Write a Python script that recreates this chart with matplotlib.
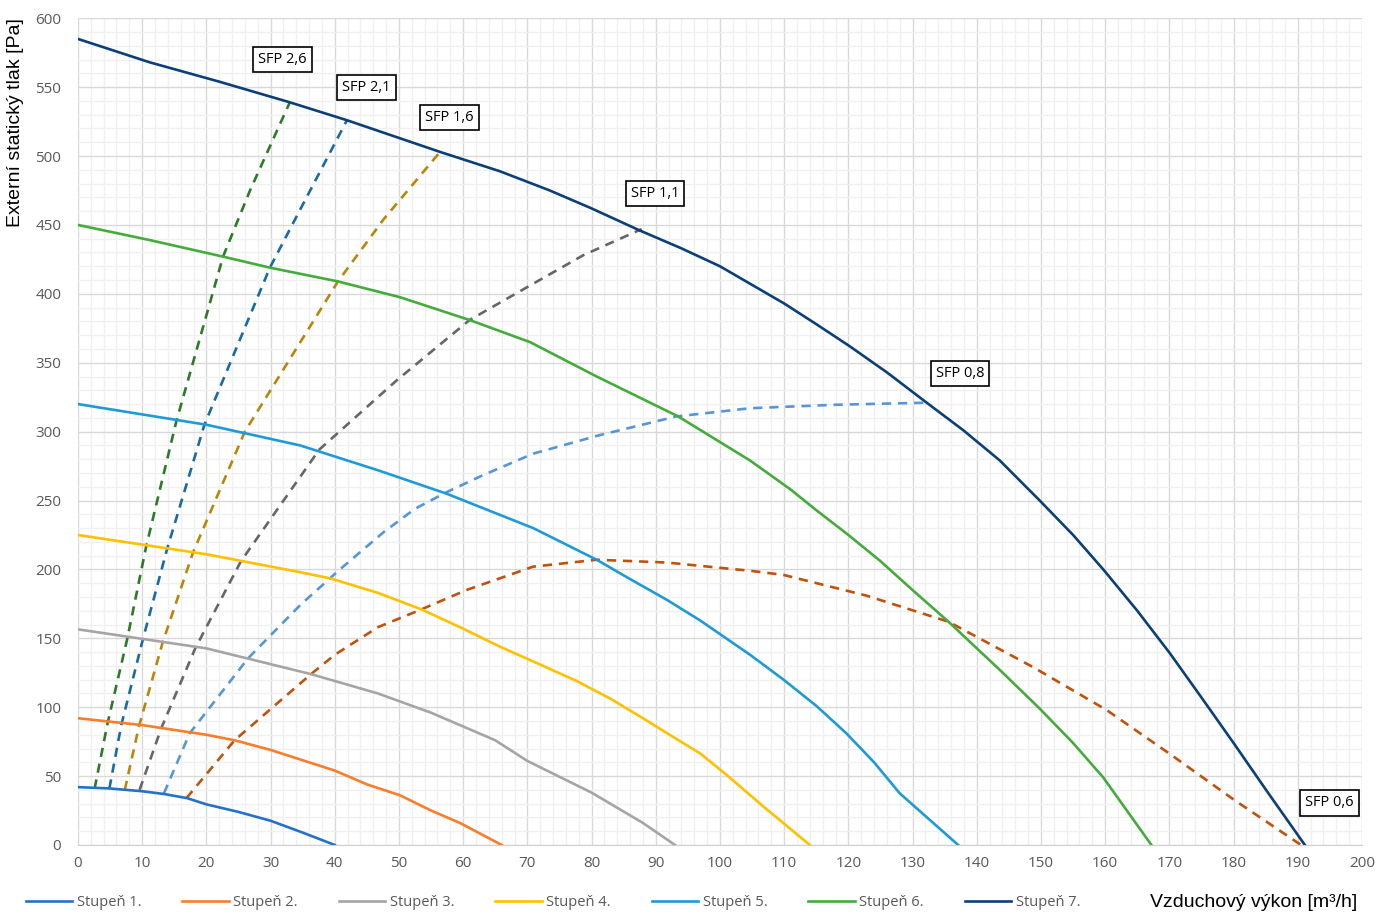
import numpy as np
import matplotlib.pyplot as plt
from matplotlib.ticker import MultipleLocator

# Charakteristiky ventilátoru - stupně 1 až 7 (x = m3/h, y = Pa)
st1_x = [0, 5, 10, 13.4, 17, 20, 25, 30, 35, 40]
st1_y = [42, 41, 39, 37, 34, 29.5, 24, 17.6, 9, 0]
st2_x = [0, 10, 20, 24.4, 30, 40, 45, 50.2, 55, 59.5, 66]
st2_y = [92, 87, 80, 76, 69, 54, 44, 36, 25, 16, 0]
st3_x = [0, 20, 36.3, 46.7, 55, 60, 65, 70, 80, 88, 93]
st3_y = [156.5, 142.7, 124, 110, 96, 86, 76, 61, 38, 16, 0]
st4_x = [0, 20, 34.6, 39.3, 46.7, 53.5, 60, 65.7, 71, 77.7, 83, 88, 92.5, 96.9, 101, 107, 114]
st4_y = [225, 211, 198, 193.5, 183, 171, 157, 144, 133, 119, 106, 92, 79, 66.5, 51, 27, 0]
st5_x = [0, 20, 34.6, 46.7, 57.4, 70.9, 80.8, 86, 91.7, 96.9, 104.7, 109.9, 115, 119.7, 124, 128, 137.1]
st5_y = [320, 305, 290, 272, 255, 230, 207, 193, 178, 163, 138, 120, 101, 81, 60, 37.5, 0]
st6_x = [0, 11.2, 22.6, 29.9, 40.5, 50.2, 61, 70.4, 80.8, 93.5, 104.7, 111, 115, 120, 125, 130,
         135.6, 143.6, 149.8, 155, 159.7, 167.2]
st6_y = [450, 439, 427, 419, 409, 397.5, 381, 365, 340, 311, 279, 258, 243, 225, 206, 185,
         162, 127, 99, 74, 49, 0]
st7_x = [0, 11.2, 22, 33, 41.9, 56.4, 65.7, 73.5, 80, 87.5, 94, 100, 110, 115, 120.2, 126, 132.2, 137.9,
         143.6, 149.8, 155, 159.7, 165, 170.1, 175, 180, 185.5, 191.1]
st7_y = [585, 568, 554, 539, 526, 503, 489, 475, 462, 446, 433, 420, 393, 378, 362, 343, 321, 301,
         279, 250, 225, 200, 170, 139, 107, 74, 37, 0]

# Křivky SFP
sfp26_x = [2.6, 4.6, 7.7, 10.6, 15.3, 22.6, 26.8, 33]
sfp26_y = [41, 88, 150, 216, 307, 427, 475, 539]
sfp21_x = [4.9, 6.75, 10.1, 13.9, 19.7, 29.9, 34.6, 41.9]
sfp21_y = [41, 87, 149, 215, 305, 419, 461, 526]
sfp16_x = [7.3, 9.5, 13.2, 17.9, 26, 40.5, 47.6, 56.4]
sfp16_y = [40, 86, 147, 212, 300, 409, 454, 503]
sfp11_x = [9.6, 13, 18.3, 25.4, 37.6, 49.6, 61, 70.4, 78.7, 87.8]
sfp11_y = [40, 85, 143, 206, 287, 337, 381, 406, 428, 447]
sfp08_x = [13.4, 17.4, 26.5, 34.6, 40.8, 47.6, 52.5, 57.4, 62.9, 70.9, 81.3, 93.2, 104.7, 118, 132.2]
sfp08_y = [37.5, 81, 135.5, 174, 200, 227, 244, 256, 268, 284, 297.5, 311, 317, 319.5, 321]
sfp06_x = [16.9, 24.4, 36.3, 40, 46.7, 53.5, 60.5, 70.9, 80.8, 91.7, 104.7, 109.9, 122.8, 135.6, 148.8,
           160.2, 170.1, 180, 190.5]
sfp06_y = [34, 76, 124, 138, 158, 171, 185, 202, 207, 205, 199, 196, 181, 162, 129, 98, 66, 33, 0]

stupne = [
    ("Stupeň 1.", st1_x, st1_y, "#2372C8"),
    ("Stupeň 2.", st2_x, st2_y, "#F97D2A"),
    ("Stupeň 3.", st3_x, st3_y, "#A5A5A5"),
    ("Stupeň 4.", st4_x, st4_y, "#FFC000"),
    ("Stupeň 5.", st5_x, st5_y, "#1E9BD7"),
    ("Stupeň 6.", st6_x, st6_y, "#43AC3A"),
    ("Stupeň 7.", st7_x, st7_y, "#0B3F7A"),
]
sfp = [
    (sfp26_x, sfp26_y, "#2E7A27"),
    (sfp21_x, sfp21_y, "#1A6AA6"),
    (sfp16_x, sfp16_y, "#B8860B"),
    (sfp11_x, sfp11_y, "#666666"),
    (sfp08_x, sfp08_y, "#5596DA"),
    (sfp06_x, sfp06_y, "#C0520C"),
]
# popisky SFP (text, x, y)
sfp_labels = [("SFP 2,6", 31.9, 570), ("SFP 2,1", 44.9, 550), ("SFP 1,6", 57.9, 528),
              ("SFP 1,1", 89.9, 473), ("SFP 0,8", 137.4, 342), ("SFP 0,6", 194.9, 30.5)]

plt.rcParams['font.family'] = ['Open Sans', 'DejaVu Sans']

fig = plt.figure(figsize=(13.77, 9.13), dpi=100)
ax = fig.add_axes([0.0566, 0.0745, 0.9325, 0.9055])

for xs, ys, c in sfp:
    ax.plot(xs, ys, color=c, lw=1.9, dashes=(3.5, 2.6), zorder=3)
for name, xs, ys, c in stupne:
    ax.plot(xs, ys, color=c, lw=1.9, label=name, zorder=4, solid_joinstyle='round')

for txt, x, y in sfp_labels:
    ax.text(x, y, txt, ha='center', va='center', fontsize=10.5, zorder=6,
            bbox=dict(boxstyle='square,pad=0.35', fc='white', ec='black', lw=1.2))

ax.set_xlim(0, 200)
ax.set_ylim(0, 600)
ax.xaxis.set_major_locator(MultipleLocator(10))
ax.xaxis.set_minor_locator(MultipleLocator(2))
ax.yaxis.set_major_locator(MultipleLocator(50))
ax.yaxis.set_minor_locator(MultipleLocator(10))
ax.grid(which='major', color='#D9D9D9', lw=1.0, zorder=0)
ax.grid(which='minor', color='#F0F0F0', lw=1.0, zorder=0)
ax.set_axisbelow(True)
for s in ['top', 'right', 'left']:
    ax.spines[s].set_visible(False)
ax.spines['bottom'].set_color('#D0D0D0')
ax.tick_params(which='both', length=0, colors='#595959', labelsize=11)
ax.tick_params(axis='x', pad=8)
ax.tick_params(axis='y', pad=12)

fig.text(0.011, 0.866, "Externí statický tlak [Pa]", rotation=90, ha='center', va='center',
         fontsize=14, family=['Liberation Sans', 'DejaVu Sans'])
fig.text(0.986, 0.011, "Vzduchový výkon [m³/h]", ha='right', va='center',
         fontsize=14, family=['Liberation Sans', 'DejaVu Sans'])

leg = fig.legend(loc='center left', bbox_to_anchor=(0.009, 0.011), ncol=7, frameon=False,
                 fontsize=10.5, handlelength=3.2, handletextpad=0.3, columnspacing=2.8)
for t in leg.get_texts():
    t.set_color('#595959')

fig.savefig("out.png", dpi=100)
